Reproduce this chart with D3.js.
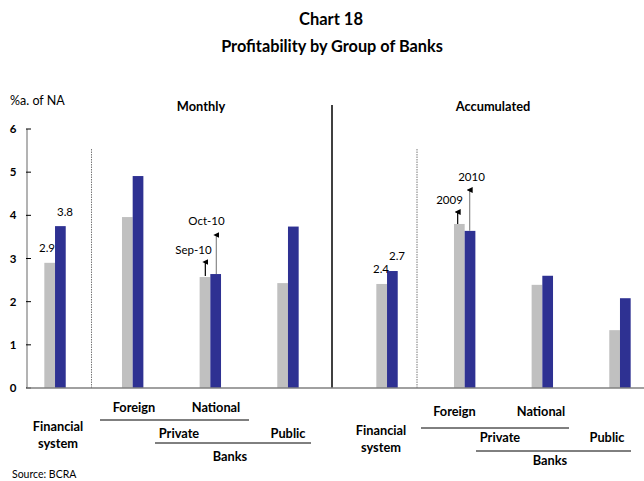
<!doctype html>
<html lang="en">
<head>
<meta charset="utf-8">
<title>Chart 18</title>
<script src="https://cdn.jsdelivr.net/npm/d3@7"></script>
<style>
  body { margin: 0; background: #fff; }
  svg text { font-family: Lato, "Open Sans", sans-serif; fill: #000; }
  .b { font-weight: bold; }
</style>
</head>
<body>
<svg id="chart" width="644" height="481"></svg>
<script>
// categories per panel
var groups = ["Financial system", "Foreign", "National", "Public"];
// monthly: Sep-10 (gray) and Oct-10 (blue)
var monthlySep = [2.9, 3.96, 2.57, 2.43];
var monthlyOct = [3.75, 4.91, 2.64, 3.74];
// accumulated: 2009 (gray) and 2010 (blue)
var accum2009 = [2.41, 3.8, 2.39, 1.34];
var accum2010 = [2.71, 3.64, 2.6, 2.08];
var yTicks = [0, 1, 2, 3, 4, 5, 6];

var svg = d3.select("#chart");
var gray = "#c0c0c0", blue = "#2e3192";

var y = d3.scaleLinear().domain([0, 6]).range([388, 129]);
var xLeft = d3.scaleBand().domain(groups).range([16.2, 326.8]);
var xRight = d3.scaleBand().domain(groups).range([348.2, 658.8]);
var barW = 10.7;

// titles
svg.append("text").attr("class", "b").attr("x", 331).attr("y", 25)
  .attr("text-anchor", "middle").style("font-size", "16.5px").text("Chart 18");
svg.append("text").attr("class", "b").attr("x", 332).attr("y", 52)
  .attr("text-anchor", "middle").style("font-size", "16.3px").text("Profitability by Group of Banks");

svg.append("text").attr("x", 10).attr("y", 105).style("font-size", "12.5px").text("%a. of NA");
svg.append("text").attr("class", "b").attr("x", 201).attr("y", 111)
  .attr("text-anchor", "middle").style("font-size", "12.8px").text("Monthly");
svg.append("text").attr("class", "b").attr("x", 493).attr("y", 111)
  .attr("text-anchor", "middle").style("font-size", "12.8px").text("Accumulated");

// y axis
svg.append("line").attr("x1", 27).attr("x2", 27).attr("y1", y(6)).attr("y2", y(0))
  .attr("stroke", "#808080").attr("stroke-width", 1.2);
svg.selectAll(".tick").data(yTicks).enter().append("line")
  .attr("x1", 26).attr("x2", 31).attr("y1", d => y(d)).attr("y2", d => y(d))
  .attr("stroke", "#000");
svg.selectAll(".tl").data(yTicks).enter().append("text").attr("class", "b")
  .attr("x", 13).attr("y", d => y(d) + 4).attr("text-anchor", "middle")
  .style("font-size", "11.5px").text(d => d);

// separators
svg.append("line").attr("x1", 332).attr("x2", 332).attr("y1", 105).attr("y2", 388)
  .attr("stroke", "#000").attr("stroke-width", 1.5);
[91.5, 417].forEach(function(x) {
  svg.append("line").attr("x1", x).attr("x2", x).attr("y1", 149).attr("y2", 388)
    .attr("stroke", "#555").attr("stroke-width", 0.8).attr("stroke-dasharray", "1.5,1");
});

function bars(xs, a, b) {
  var g = svg.append("g");
  g.selectAll(".ga").data(groups).enter().append("rect")
    .attr("x", d => xs(d) + xs.bandwidth() / 2 - barW)
    .attr("y", (d, i) => y(a[i])).attr("width", barW)
    .attr("height", (d, i) => y(0) - y(a[i])).attr("fill", gray);
  g.selectAll(".gb").data(groups).enter().append("rect")
    .attr("x", d => xs(d) + xs.bandwidth() / 2)
    .attr("y", (d, i) => y(b[i])).attr("width", barW)
    .attr("height", (d, i) => y(0) - y(b[i])).attr("fill", blue);
}
bars(xLeft, monthlySep, monthlyOct);
bars(xRight, accum2009, accum2010);

// baseline
svg.append("line").attr("x1", 27).attr("x2", 644).attr("y1", y(0)).attr("y2", y(0))
  .attr("stroke", "#808080").attr("stroke-width", 1.5);

// value labels
function lab(x, yy, t, anchor) {
  svg.append("text").attr("x", x).attr("y", yy).attr("text-anchor", anchor || "middle")
    .style("font-size", "11.5px").text(t);
}
lab(47, 252, "2.9");
lab(65, 216, "3.8");
lab(381, 273, "2.4");
lab(397, 260, "2.7");
lab(193.5, 254, "Sep-10");
lab(206.5, 225, "Oct-10");
lab(449.5, 204, "2009");
lab(471.5, 181, "2010");

// arrows
svg.append("defs").append("marker").attr("id", "ah").attr("viewBox", "0 0 6 6")
  .attr("refX", 3).attr("refY", 3).attr("markerWidth", 5).attr("markerHeight", 5)
  .attr("orient", "auto").append("path").attr("d", "M0,6 L3,0 L6,6 Z").attr("fill", "#000");
function arrow(x, y1, y2, col) {
  svg.append("line").attr("x1", x).attr("x2", x).attr("y1", y1).attr("y2", y2)
    .attr("stroke", col).attr("stroke-width", 1.2).attr("marker-end", "url(#ah)");
}
var xr = xLeft("National") + xLeft.bandwidth() / 2;
arrow(xr - 5, y(monthlySep[2]) - 1, 262, "#000");
arrow(xr + 6, y(monthlyOct[2]), 235, "#888");
var xa = xRight("Foreign") + xRight.bandwidth() / 2;
arrow(xa - 7, y(accum2009[1]), 212, "#000");
arrow(xa + 5, y(accum2010[1]), 190, "#888");

// category labels below axis
function cat(x, yy, t) {
  svg.append("text").attr("class", "b").attr("x", x).attr("y", yy)
    .attr("text-anchor", "middle").style("font-size", "12.8px").text(t);
}
function rule(x1, x2, yy) {
  svg.append("line").attr("x1", x1).attr("x2", x2).attr("y1", yy).attr("y2", yy)
    .attr("stroke", "#000").attr("stroke-width", 1);
}
// left panel
cat(58, 431, "Financial"); cat(58, 448, "system");
cat(134, 412, "Foreign"); cat(216, 412, "National");
rule(100, 249, 420);
cat(179, 438, "Private"); cat(288, 438, "Public");
rule(155, 311, 443);
cat(230, 461, "Banks");
// right panel
cat(381, 435, "Financial"); cat(381, 452, "system");
cat(454.5, 416, "Foreign"); cat(541, 416, "National");
rule(421, 569, 428);
cat(500, 442, "Private"); cat(607, 442, "Public");
rule(476, 631, 451);
cat(550, 465, "Banks");

svg.append("text").attr("x", 12).attr("y", 478).style("font-size", "10.5px").text("Source: BCRA");
</script>
</body>
</html>
